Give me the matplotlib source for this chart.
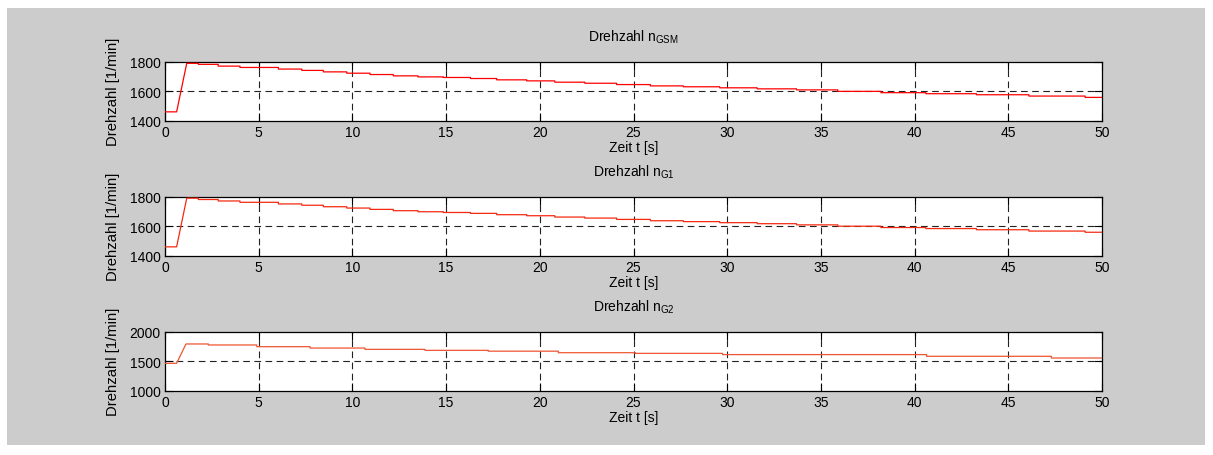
import matplotlib
matplotlib.use("Agg")
import matplotlib.pyplot as plt
from matplotlib.patches import Rectangle

plt.rcParams['font.family'] = ['Liberation Sans', 'DejaVu Sans']
plt.rcParams['mathtext.fontset'] = 'custom'
plt.rcParams['mathtext.rm'] = 'Liberation Sans'
plt.rcParams['mathtext.it'] = 'Liberation Sans'

# ---- data ----
titles = [r'Drehzahl n$_{\mathrm{GSM}}$', r'Drehzahl n$_{\mathrm{G1}}$', r'Drehzahl n$_{\mathrm{G2}}$']
ylims = [(1400, 1800), (1400, 1800), (1000, 2000)]
yticks = [[1400, 1600, 1800], [1400, 1600, 1800], [1000, 1500, 2000]]
ygrid = [1600, 1600, 1500]
xticks = [0, 5, 10, 15, 20, 25, 30, 35, 40, 45, 50]
t_end = 50

# ramp: start level, ramp start time, ramp end time, ramp end level
ramp_gsm = (1460, 0.62, 1.16, 1789)
step_t_gsm = [1.78, 2.84, 4.0, 6.05, 7.3, 8.45, 9.7, 10.94, 12.18, 13.5, 14.85, 16.3,
              17.7, 19.3, 20.8, 22.4, 24.1, 25.9, 27.66, 29.6, 31.6, 33.7, 35.9, 38.2,
              40.6, 43.3, 46.1, 49.1]
step_v_gsm = [1782, 1770, 1761, 1750, 1741, 1731, 1722, 1713, 1704, 1697, 1693, 1686,
              1677, 1670, 1661, 1654, 1645, 1636, 1630, 1623, 1616, 1609, 1599, 1590,
              1583, 1576, 1567, 1558]

ramp_g1 = (1460, 0.62, 1.16, 1790)
step_t_g1 = [1.78, 2.84, 4.0, 6.05, 7.3, 8.45, 9.7, 10.94, 12.18, 13.5, 14.85, 16.3,
             17.7, 19.3, 20.8, 22.4, 24.1, 25.9, 27.66, 29.6, 31.6, 33.7, 35.9, 38.2,
             40.6, 43.3, 46.1, 49.1]
step_v_g1 = [1781, 1771, 1762, 1751, 1742, 1732, 1723, 1714, 1705, 1698, 1693, 1687,
             1678, 1671, 1662, 1655, 1646, 1637, 1631, 1624, 1617, 1609, 1600, 1591,
             1584, 1576, 1567, 1559]

ramp_g2 = (1464, 0.62, 1.12, 1792)
step_t_g2 = [2.31, 4.9, 7.74, 10.67, 13.87, 17.25, 20.99, 25.1, 29.75, 40.64, 47.3]
step_v_g2 = [1775, 1746, 1723, 1701, 1684, 1670, 1644, 1633, 1612, 1583, 1554]

series = [(ramp_gsm, step_t_gsm, step_v_gsm),
          (ramp_g1, step_t_g1, step_v_g1),
          (ramp_g2, step_t_g2, step_v_g2)]
colors = ['#ff0000', '#f42a10', '#ee5533']

# ---- figure ----
fig = plt.figure(figsize=(12.13, 4.56), dpi=100, facecolor='white')
fig.patches.append(Rectangle((7 / 1213, 1 - 446 / 456), (1205 - 7) / 1213, (446 - 9) / 456,
                             transform=fig.transFigure, facecolor='#cccccc',
                             edgecolor='none', zorder=-10))

left = 165 / 1213
width = (1102 - 165) / 1213
tops = [62.7, 197.7, 332.7]
h = 59

for i in range(3):
    top = tops[i]
    ax = fig.add_axes([left, 1 - (top + h) / 456, width, h / 456])
    ax.set_facecolor('white')
    (v0, ts, te, ve), st, sv = series[i]
    xs = [0, ts, te]
    ys = [v0, v0, ve]
    prev = ve
    for t, v in zip(st, sv):
        xs += [t, t]
        ys += [prev, v]
        prev = v
    xs.append(t_end)
    ys.append(prev)
    ax.plot(xs, ys, color=colors[i], lw=0.9, zorder=3)

    ax.set_xlim(0, t_end)
    ax.set_ylim(*ylims[i])
    ax.set_xticks(xticks)
    ax.set_yticks(yticks[i])
    for x in xticks[1:-1]:
        ax.axvline(x, color='#222222', lw=0.8, dashes=(6, 4), zorder=1)
    ax.axhline(ygrid[i], color='#222222', lw=0.8, dashes=(6, 4), zorder=1)

    ax.tick_params(direction='in', top=True, right=True, length=5.5, width=0.8,
                   labelsize=10, pad=3, colors='black')
    for s in ax.spines.values():
        s.set_linewidth(0.9)
        s.set_color('black')
    ax.set_title(titles[i], fontsize=10, pad=15)
    ax.set_xlabel('Zeit t [s]', fontsize=10, labelpad=1)
    ax.set_ylabel('Drehzahl [1/min]', fontsize=10.7, labelpad=7)

fig.savefig('out.png', dpi=100, facecolor='white')
